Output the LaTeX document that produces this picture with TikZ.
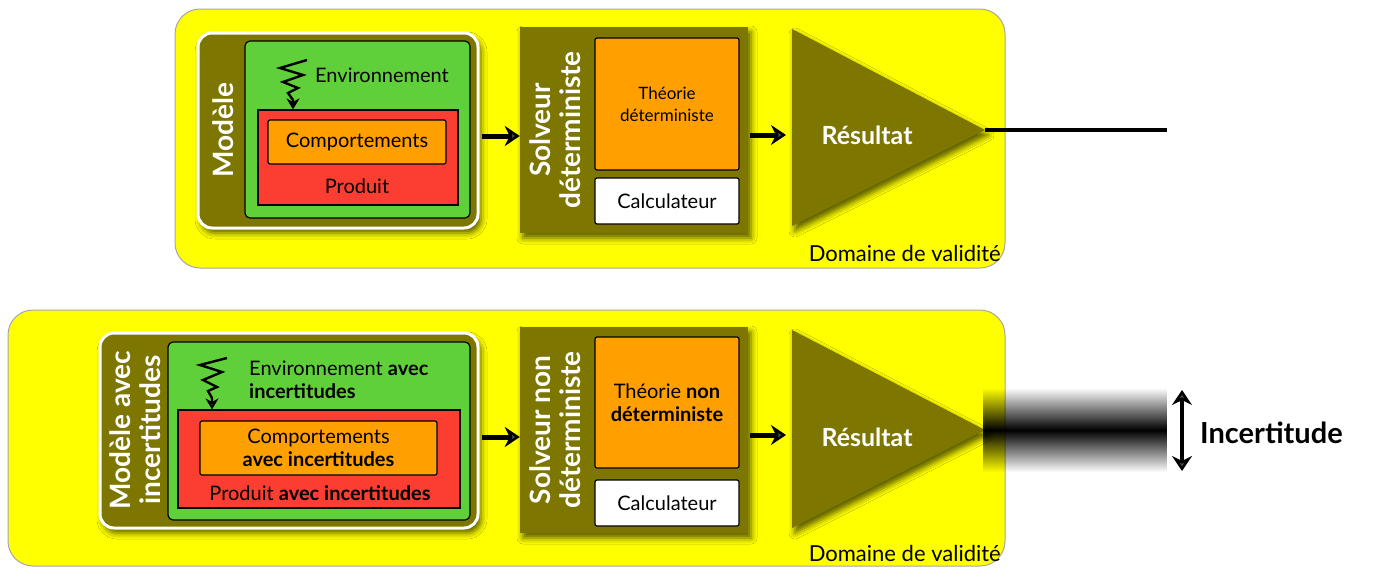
\documentclass[tikz,border=0pt]{standalone}
\usepackage{fontspec}
\setmainfont{Lato}
\usetikzlibrary{arrows.meta,calc,positioning,shadows.blur,fadings}
\definecolor{PanelClr}{RGB}{255,255,0}
\definecolor{OliveClr}{RGB}{125,118,0}
\definecolor{GreenClr}{RGB}{96,208,58}
\definecolor{RedClr}{RGB}{252,62,50}
\definecolor{OrangeClr}{RGB}{255,160,0}
\newcommand\BoxFnt{\fontsize{20}{23}\selectfont}
\newcommand\SmallFnt{\fontsize{17}{22}\selectfont}
\newcommand\LblFnt{\fontsize{28}{30}\selectfont\bfseries}
\newcommand\ResFnt{\fontsize{25}{28}\selectfont\bfseries}
\tikzfading[name=band fade,top color=transparent!100,bottom color=transparent!100,middle color=transparent!0]

\begin{document}
\begin{tikzpicture}[x=1pt,y=-1pt,
  panel/.style={fill=PanelClr,draw=gray!70,line width=1pt,rounded corners=25pt},
  modbox/.style={fill=OliveClr,draw=white,line width=3pt,rounded corners=14pt,inner sep=0pt,
    blur shadow={shadow xshift=3pt,shadow yshift=-5pt,shadow blur radius=6pt,shadow opacity=65}},
  greenbox/.style={fill=GreenClr,draw=black,line width=1.2pt,rounded corners=5pt,inner sep=0pt},
  redbox/.style={fill=RedClr,draw=black,line width=1.2pt,inner sep=0pt},
  orangebox/.style={fill=OrangeClr,draw=black,line width=1.2pt,rounded corners=2pt,inner sep=0pt,align=center,font=\BoxFnt},
  solvbox/.style={fill=OliveClr,inner sep=0pt,
    blur shadow={shadow xshift=3pt,shadow yshift=-5pt,shadow blur radius=6pt,shadow opacity=65}},
  calcbox/.style={fill=white,draw=black,line width=1.2pt,rounded corners=2pt,inner sep=0pt,font=\BoxFnt},
  vlabel/.style={rotate=90,text=white,font=\LblFnt,align=center,inner sep=0pt},
  reslabel/.style={text=white,font=\ResFnt,inner sep=0pt},
  flow/.style={-{Stealth[length=15pt,width=20pt]},line width=5pt},
  zig/.style={-{Stealth[length=11pt,width=13pt]},line width=2.4pt,line join=miter},
  txt/.style={font=\BoxFnt,inner sep=0pt,align=left},
  domlabel/.style={anchor=south east,font=\fontsize{22}{24}\selectfont,inner sep=0pt},
  tricolor/.style={fill=OliveClr,
    blur shadow={shadow xshift=3pt,shadow yshift=-5pt,shadow blur radius=6pt,shadow opacity=65}}]
\useasboundingbox (0,0) rectangle (1378,568);

% ---- top : deterministic chain
\draw[panel] (175,9) rectangle (1005,268);

\node[modbox,minimum width=280pt,minimum height=195pt] (mod1) at (338,130.5) {};
\node[vlabel] (mod1lbl) at (223,130) {Modèle};
\node[greenbox,minimum width=225pt,minimum height=177pt] (env1) at (357.5,129.5) {};
\node[redbox,minimum width=200pt,minimum height=95pt] (prod1) at (358,157.5) {};
\node[orangebox,minimum width=178pt,minimum height=44pt] (comp1) at (357,142) {Comportements};
\node[txt] (prod1lbl) at (357,186) {Produit};
\node[txt] (env1lbl) at (382,75) {Environnement};
\coordinate (zz1) at (293,100);
\draw[zig] (307,60) -- (280,68) -- (303,75) -- (283,82) -- (298,88) -- (288,93) -- (zz1) -- (zz1 |- prod1.north);

\node[solvbox,minimum width=228pt,minimum height=206pt] (solv1) at (634,130) {};
\node[vlabel] (solv1lbl) at (555,130) {Solveur\\déterministe};
\node[orangebox,minimum width=144pt,minimum height=132pt,font=\SmallFnt] (theo1) at (667,104) {Théorie\\déterministe};
\node[calcbox,minimum width=144pt,minimum height=46pt] (calc1) at (667,201) {Calculateur};

\coordinate (tri1a) at (792,29);
\coordinate (apex1) at (985,130);
\coordinate (tri1b) at (792,226);
\coordinate (tri1w) at (792,130);
\fill[tricolor] (tri1a) -- (apex1) -- (tri1b) -- cycle;
\node[reslabel] (res1) at (867,135) {Résultat};
\node[domlabel] (dom1) at (1001,262) {Domaine de validité};

\draw[flow] ($(mod1.east)+(2,5.5)$) -- ($(solv1.west)+(0,6)$);
\draw[flow] ($(solv1.east)+(2,5)$) -- ($(tri1w)+(-6,5)$);
\coordinate (out1) at (1167,130);
\draw[line width=4pt] (apex1) -- (out1);

% ---- bottom : chain with uncertainties
\draw[panel] (8,310) rectangle (1005,566);

\node[modbox,minimum width=378pt,minimum height=195pt] (mod2) at (289,430.5) {};
\node[vlabel] (mod2lbl) at (135,430) {Modèle avec\\incertitudes};
\node[greenbox,minimum width=302pt,minimum height=178pt] (env2) at (319,431) {};
\node[redbox,minimum width=282pt,minimum height=98pt] (prod2) at (319,459) {};
\node[orangebox,minimum width=237pt,minimum height=54pt] (comp2) at (318.5,448) {Comportements\\\textbf{avec incertitudes}};
\node[txt] (prod2lbl) at (320,493) {Produit \textbf{avec incertitudes}};
\node[txt,anchor=west] (env2lbl) at (249,380) {Environnement \textbf{avec}\\\textbf{incertitudes}};
\coordinate (zz2) at (212,398);
\draw[zig] (227,358) -- (200,365) -- (222,372) -- (203,380) -- (217,387) -- (208,391) -- (zz2) -- (zz2 |- prod2.north);

\node[solvbox,minimum width=228pt,minimum height=206pt] (solv2) at (634,430) {};
\node[vlabel] (solv2lbl) at (555,430) {Solveur non\\déterministe};
\node[orangebox,minimum width=144pt,minimum height=131pt] (theo2) at (667,402.5) {Théorie \textbf{non}\\\textbf{déterministe}};
\node[calcbox,minimum width=144pt,minimum height=46pt] (calc2) at (667,503) {Calculateur};

\coordinate (tri2a) at (792,330);
\coordinate (apex2) at (985,430);
\coordinate (tri2b) at (792,528);
\coordinate (tri2w) at (792,430);
\fill[tricolor] (tri2a) -- (apex2) -- (tri2b) -- cycle;
\node[reslabel] (res2) at (867,437) {Résultat};
\node[domlabel] (dom2) at (1001,562) {Domaine de validité};

\draw[flow] ($(mod2.east)+(2,6.5)$) -- ($(solv2.west)+(0,7)$);
\draw[flow] ($(solv2.east)+(2,5)$) -- ($(tri2w)+(-6,5)$);

% blurred output band
\fill[black,path fading=band fade] (983,388) rectangle (1167,472);
\coordinate (unctop) at (1182,390);
\coordinate (uncbot) at (1182,471);
\draw[{Stealth[length=15pt,width=20pt]}-{Stealth[length=15pt,width=20pt]},line width=3.5pt] (unctop) -- (uncbot);
\node[anchor=west,font=\fontsize{29}{32}\selectfont\bfseries,inner sep=0pt] (unc) at (1200,433) {Incertitude};
\end{tikzpicture}
\end{document}
